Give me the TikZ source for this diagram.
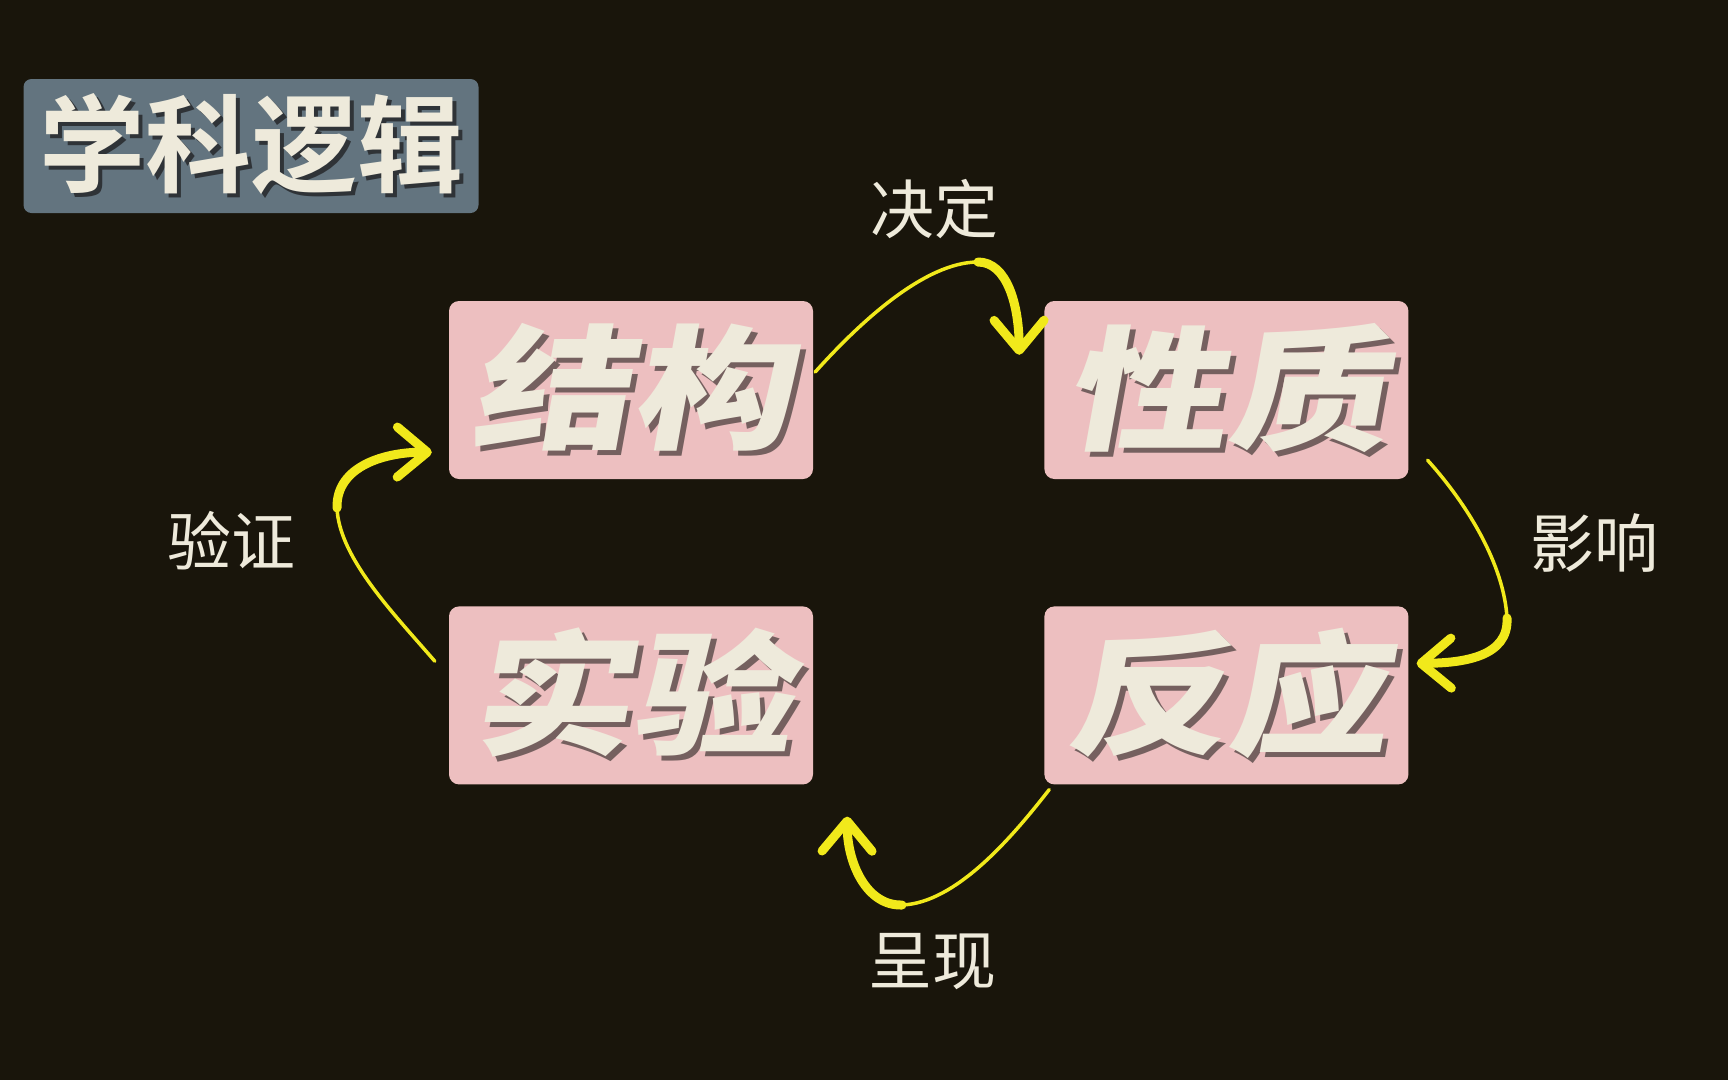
\documentclass[tikz,border=0pt]{standalone}
\usepackage{fontspec}
\usetikzlibrary{positioning}
\usetikzlibrary{calc}
\usetikzlibrary{arrows.meta}

\newfontfamily\titlefont{Noto Sans CJK SC Bold}
\newfontfamily\boxfont{Noto Sans CJK SC Black}[FakeSlant=0.18, FakeStretch=1.2]
\newfontfamily\labelfont{Noto Sans CJK SC}

\definecolor{bgdark}{HTML}{19150B}
\definecolor{slate}{HTML}{63747F}
\definecolor{boxpink}{HTML}{EDBFC0}
\definecolor{cream}{HTML}{EEEADB}
\definecolor{shadebrown}{HTML}{75605F}
\definecolor{shadegrey}{HTML}{2F3337}
\definecolor{arrowyellow}{HTML}{F1E91B}

% text with a dark copy behind it, down and to the right
\newcommand{\shadowed}[3]{\rlap{\kern#1\raisebox{-#1}{\color{#2}#3}}#3}

\begin{document}
\begin{tikzpicture}[x=1pt, y=-1pt,
  keybox/.style={fill=boxpink, rounded corners=10pt, minimum width=364pt,
    minimum height=178pt, inner sep=0pt, text=cream,
    font=\boxfont\fontsize{134}{134}\selectfont},
  linklabel/.style={text=cream, font=\labelfont\fontsize{64}{64}\selectfont},
  thinlink/.style={draw=arrowyellow, line width=3.5pt, line cap=round},
  thicklink/.style={draw=arrowyellow, line width=9pt, line cap=round,
    -{Straight Barb[length=30pt, width=50pt, round]}},
  node distance=127pt and 231pt]

  \useasboundingbox[fill=bgdark] (0,0) rectangle (1728,1080);

  % Title
  \node[fill=slate, rounded corners=8pt, minimum width=455pt, minimum height=134pt,
    inner sep=0pt, text=cream, font=\titlefont\fontsize{106}{106}\selectfont]
    (title) at (251,146) {\shadowed{4pt}{shadegrey}{学科逻辑}};

  % Define nodes
  \node[keybox] (jiegou) at (631,390) {\shadowed{5pt}{shadebrown}{结构}};
  \node[keybox, right=of jiegou] (xingzhi) {\shadowed{5pt}{shadebrown}{性质}};
  \node[keybox, below=of jiegou] (shiyan) {\shadowed{5pt}{shadebrown}{实验}};
  \node[keybox, right=of shiyan] (fanying) {\shadowed{5pt}{shadebrown}{反应}};

  % Labels
  \node[linklabel] (jueding) at (934,209) {决定};
  \node[linklabel] (yingxiang) at (1594,543) {影响};
  \node[linklabel] (chengxian) at (932,962) {呈现};
  \node[linklabel] (yanzheng) at (231,541) {验证};

  % Connect nodes
  \coordinate (m1) at (978,262);
  \coordinate (m2) at (1507,618);
  \coordinate (m3) at (902,905);
  \coordinate (m4) at (337,508);

  \draw[thinlink] ($(jiegou.east)+(2,-18)$) .. controls (860,322) and (925,262) .. (m1);
  \draw[thicklink] (m1) .. controls (1007,262) and (1019,305) .. ($(xingzhi.north west)+(-25,54)$);

  \draw[thinlink] ($(xingzhi.south east)+(19,-19)$) .. controls (1468,505) and (1504,565) .. (m2);
  \draw[thicklink] (m2) .. controls (1509,657) and (1463,663) .. ($(fanying.east)+(8,-32)$);

  \draw[thinlink] ($(fanying.south west)+(5,5)$) .. controls (1010,840) and (955,903) .. (m3);
  \draw[thicklink] (m3) .. controls (866,906) and (847,862) .. ($(shiyan.south east)+(34,32)$);

  \draw[thinlink] ($(shiyan.north west)+(-14,55)$) .. controls (395,615) and (339,558) .. (m4);
  \draw[thicklink] (m4) .. controls (336,465) and (387,452) .. ($(jiegou.south west)+(-17,-27)$);

\end{tikzpicture}
\end{document}
